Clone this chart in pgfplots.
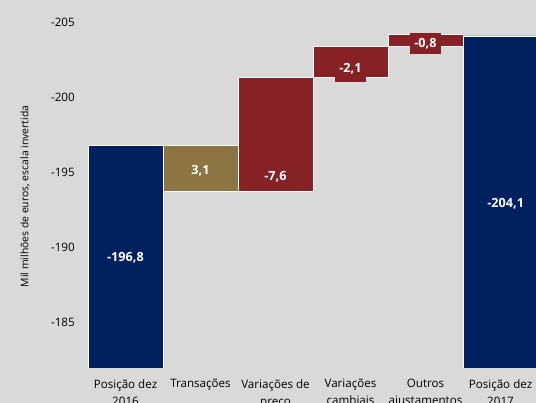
\documentclass[border=0pt]{standalone}
\usepackage{fontspec}
\setmainfont{Open Sans}
\usepackage{pgfplots}
\pgfplotsset{compat=1.18}
\definecolor{bg}{HTML}{D9D9D9}
\definecolor{navy}{HTML}{002060}
\definecolor{gold}{HTML}{8C7443}
\definecolor{wred}{HTML}{862226}
\begin{document}
\begin{tikzpicture}
\useasboundingbox (0,0) rectangle (402pt,302.25pt);
\fill[bg] (0,0) rectangle (402pt,302.25pt);
\clip (0,0) rectangle (402pt,302.25pt);
\pgfplotsset{myaxis/.style={
  at={(66pt,27pt)}, anchor=south west, scale only axis,
  width=337.5pt, height=275.25pt,
  xmin=-0.5, xmax=5.5, ymin=-206.5, ymax=-182, y dir=reverse}}
\begin{axis}[myaxis, ybar stacked, bar width=1,
  axis line style={draw=none}, major tick length=0pt,
  ytick={-205,-200,-195,-190,-185},
  yticklabels={-205,-200,-195,-190,-185},
  yticklabel style={anchor=east, inner sep=0pt, xshift=-9.75pt, font=\fontsize{8.7}{10}\selectfont},
  xtick={0,1,2,3,4,5},
  xticklabels={Posição dez\\2016, Transações, Variações de\\preço, Variações\\cambiais, Outros\\ajustamentos, Posição dez\\2017},
  xticklabel style={anchor=north, align=center, inner sep=0pt, yshift=-9pt, font=\fontsize{8.7}{12.75}\selectfont},
  ylabel={Mil milhões de euros, escala invertida},
  ylabel style={at={(axis description cs:0,0.4646)}, anchor=center, yshift=47.25pt, font=\fontsize{7.8}{10}\selectfont},
  every axis plot/.append style={draw=white, line width=0.6pt}]
\addplot[draw=none, fill=none] coordinates {(0,0) (1,-193.7) (2,-193.7) (3,-201.3) (4,-203.4) (5,0)};
\addplot[fill=navy] coordinates {(0,-196.8) (1,0) (2,0) (3,0) (4,0) (5,-204.1)};
\addplot[fill=gold] coordinates {(0,0) (1,-3.1) (2,0) (3,0) (4,0) (5,0)};
\addplot[fill=wred] coordinates {(0,0) (1,0) (2,-7.6) (3,-2.1) (4,-0.8) (5,0)};
\end{axis}
\begin{axis}[myaxis, hide axis, clip=false]
\addplot[draw=none, mark=none, nodes near coords, point meta=explicit symbolic,
  nodes near coords align=center,
  every node near coord/.append style={text=white, inner sep=0pt, font=\fontsize{9.5}{12}\selectfont\bfseries}]
  table[meta=lab, row sep=\\] {x y lab\\ 0 -189.27 -196,8\\ 1 -195.13 3,1\\ 5.07 -192.92 -204,1\\};
\addplot[draw=none, mark=none, nodes near coords, point meta=explicit symbolic,
  nodes near coords align=center,
  every node near coord/.append style={text=white, fill=wred, inner xsep=3pt, inner ysep=0pt, minimum height=15.75pt, font=\fontsize{9.5}{12}\selectfont\bfseries}]
  table[meta=lab, row sep=\\] {x y lab\\ 2 -194.69 -7,6\\ 4 -203.58 -0,8\\};
\addplot[draw=none, mark=none, nodes near coords, point meta=explicit symbolic,
  nodes near coords align=center,
  every node near coord/.append style={text=white, fill=wred, inner xsep=3.5pt, inner ysep=0pt, minimum height=20pt, font=\fontsize{9.5}{12}\selectfont\bfseries}]
  table[meta=lab, row sep=\\] {x y lab\\ 3 -201.94 -2,1\\};
\end{axis}
\end{tikzpicture}
\end{document}
